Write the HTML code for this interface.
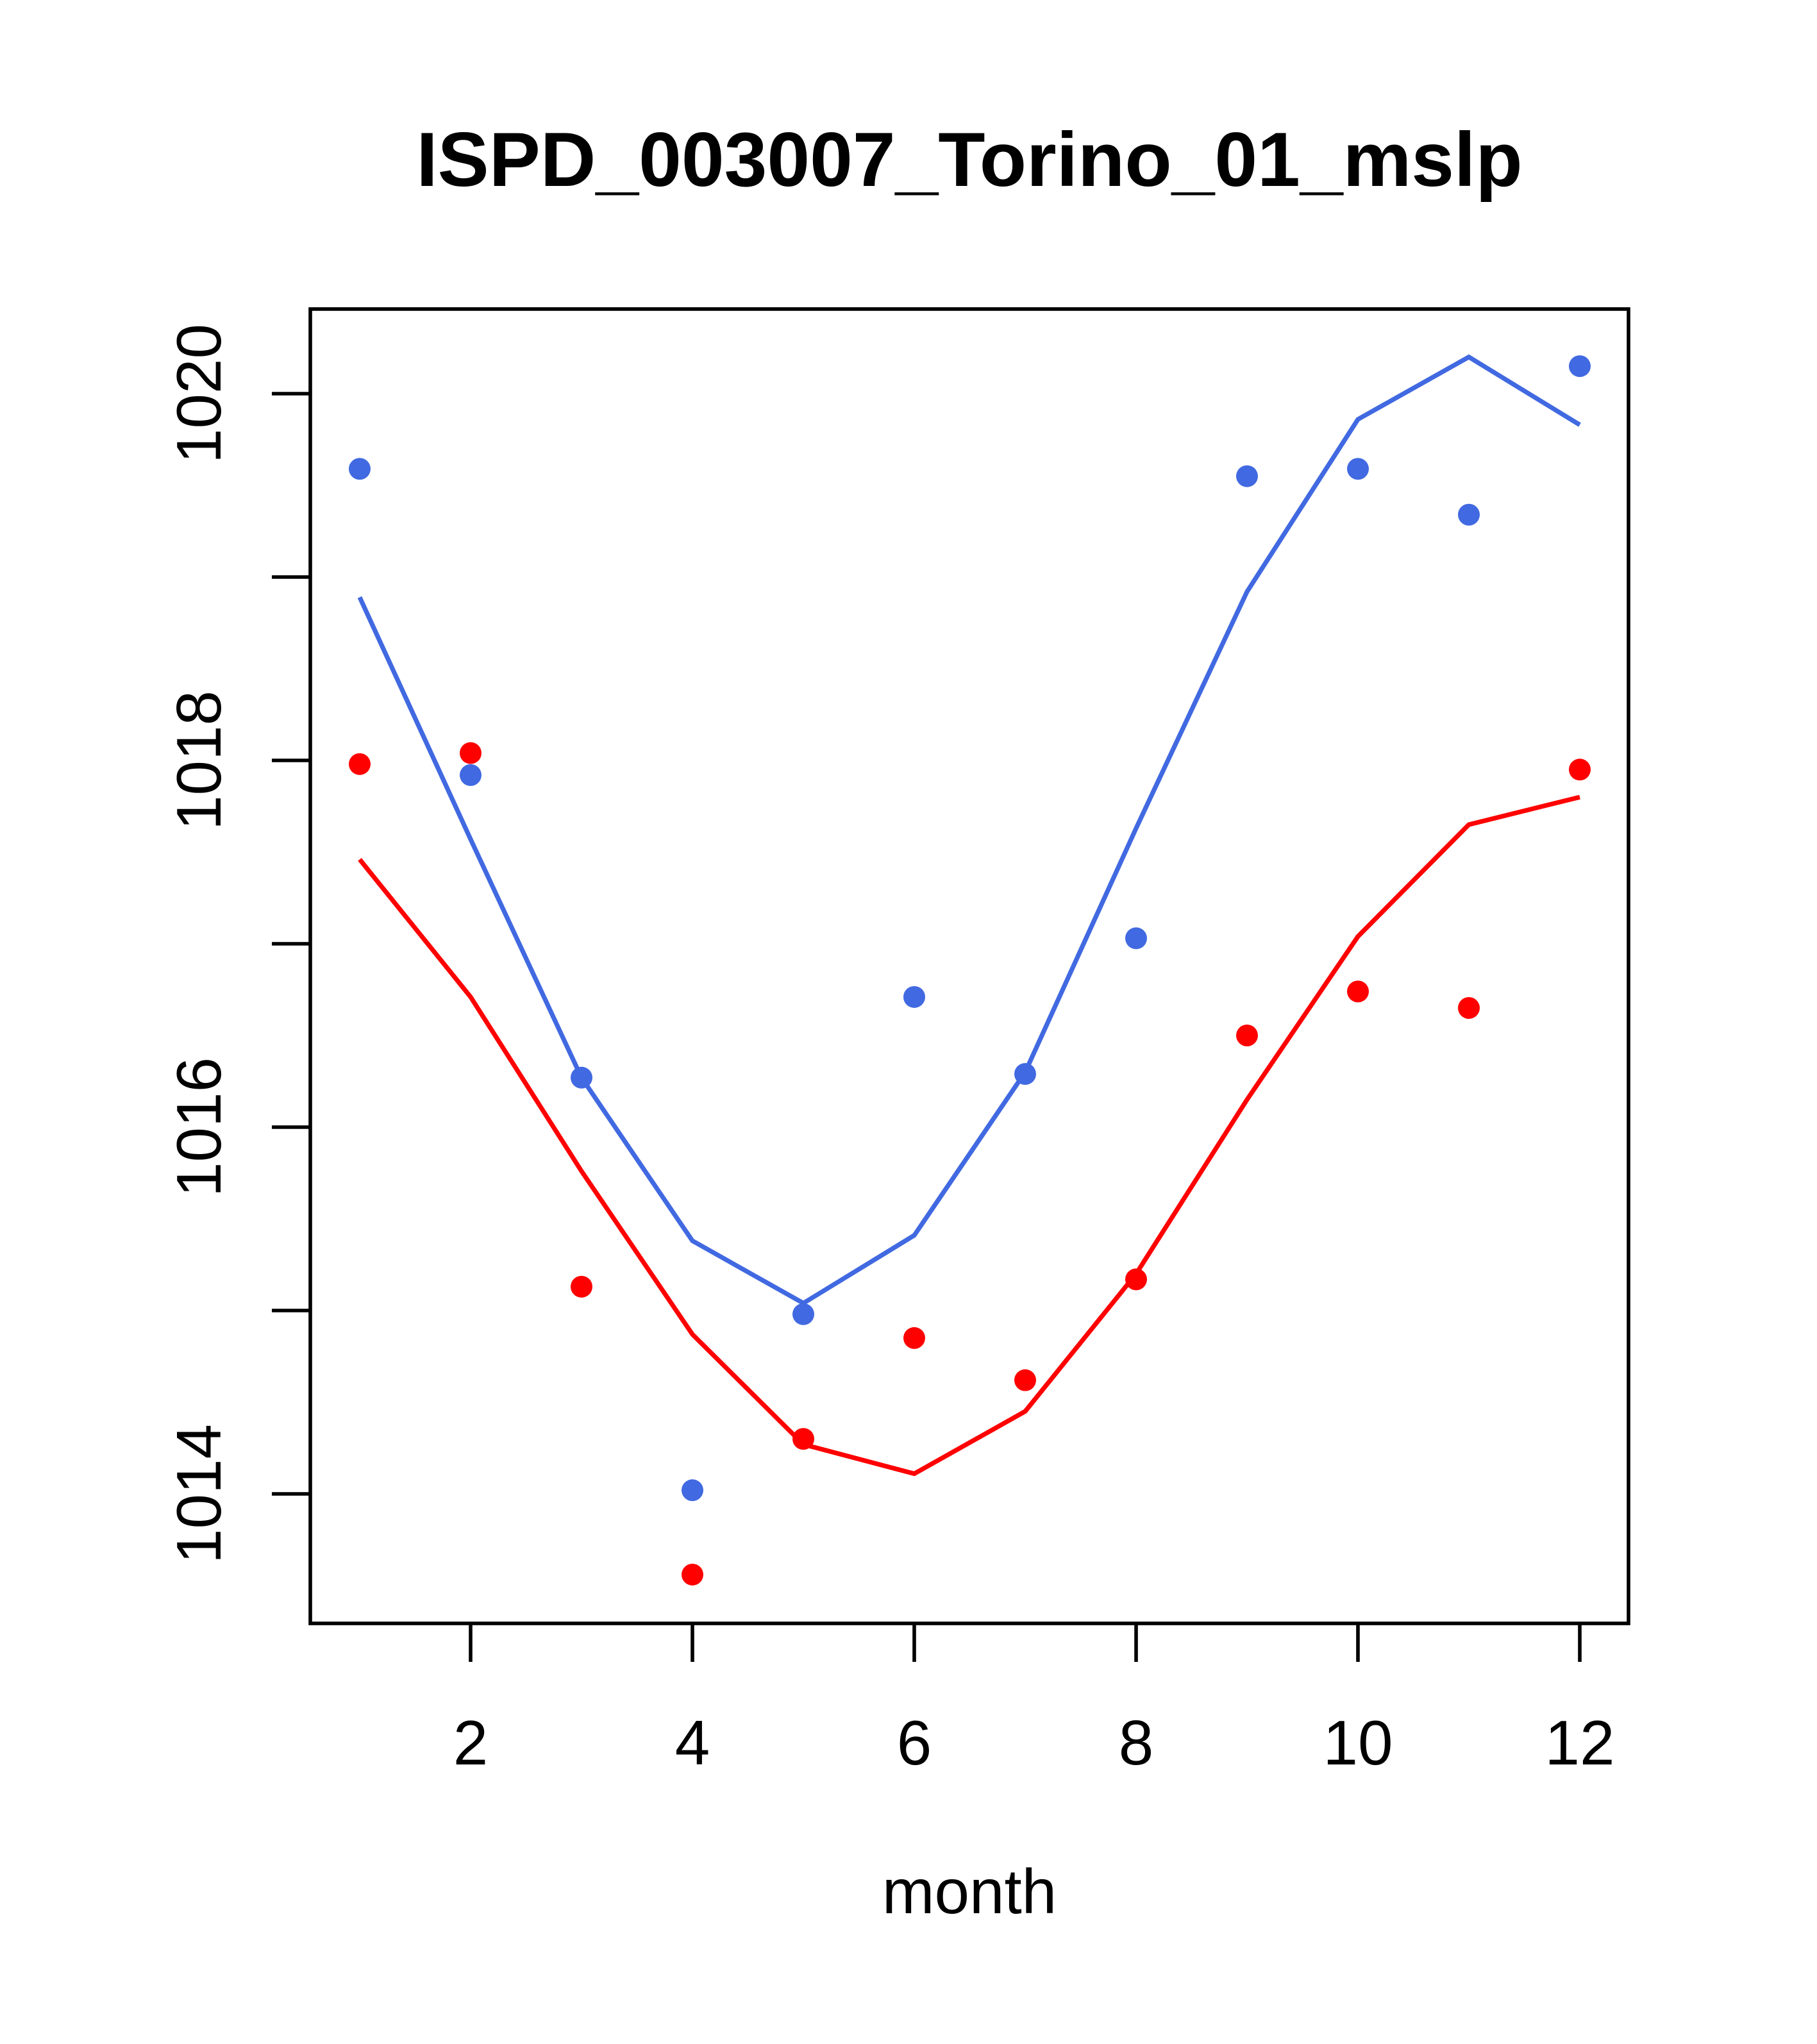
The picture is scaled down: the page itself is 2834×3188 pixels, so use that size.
<!DOCTYPE html>
<html><head><meta charset="utf-8"><style>
html,body{margin:0;padding:0;background:#fff;}
svg{display:block;font-family:"Liberation Sans",sans-serif;}
</style></head><body>
<svg id="chart" width="2834" height="3188" viewBox="0 0 1417 1594" xmlns="http://www.w3.org/2000/svg">
<rect width="1417" height="1594" fill="#fff"/>
<text x="756" y="145" text-anchor="middle" font-size="60" font-weight="bold">ISPD_003007_Torino_01_mslp</text>
<rect x="242" y="241" width="1028" height="1025" fill="none" stroke="#000" stroke-width="2.8"/>
<text x="756" y="1492" text-anchor="middle" font-size="49">month</text>
<g id="axes"></g>
<g id="marks"></g>
</svg>
<script>
const months=[1,2,3,4,5,6,7,8,9,10,11,12];
const blueLine=[1018.89,1017.57,1016.27,1015.38,1015.04,1015.41,1016.30,1017.63,1018.92,1019.86,1020.20,1019.83];
const bluePoints=[1019.59,1017.92,1016.27,1014.02,1014.98,1016.71,1016.29,1017.03,1019.55,1019.59,1019.34,1020.15];
const redLine=[1017.46,1016.71,1015.76,1014.87,1014.27,1014.11,1014.45,1015.20,1016.15,1017.04,1017.65,1017.80];
const redPoints=[1017.98,1018.04,1015.13,1013.56,1014.30,1014.85,1014.62,1015.17,1016.50,1016.74,1016.65,1017.95];
const xTicks=[2,4,6,8,10,12];
const yTicks=[1014,1015,1016,1017,1018,1019,1020];
const yLabels=[1014,1016,1018,1020];

const NS="http://www.w3.org/2000/svg";
function sx(m){return 280.5+(m-1)*86.5;}
function sy(v){return 307+(1020-v)*143;}
const axes=document.getElementById('axes');
const marks=document.getElementById('marks');
function mk(tag,attrs,parent){const e=document.createElementNS(NS,tag);for(const k in attrs)e.setAttribute(k,attrs[k]);parent.appendChild(e);return e;}

xTicks.forEach(t=>{
  const l=mk('line',{x1:sx(t),x2:sx(t),y1:1266,y2:1296,stroke:'#000','stroke-width':2.8},axes);
  
  
  const tx=mk('text',{x:sx(t),y:1376,'text-anchor':'middle','font-size':49},axes);
  tx.textContent=t;
  
  
});
yTicks.forEach(t=>{
  const l=mk('line',{x1:212,x2:242,y1:sy(t),y2:sy(t),stroke:'#000','stroke-width':2.8},axes);
  
  
});
yLabels.forEach(t=>{
  const tx=mk('text',{x:0,y:0,'text-anchor':'middle','font-size':49,transform:`translate(172,${sy(t)}) rotate(-90)`},axes);
  tx.textContent=t;
  
  
});
function line(vals,color,name){
  const p=mk('polyline',{points:vals.map((v,i)=>sx(months[i])+','+sy(v)).join(' '),fill:'none',stroke:color,'stroke-width':3.6},marks);
  
  
}
function pts(vals,color,name){
  vals.forEach((v,i)=>{
    const c=mk('circle',{cx:sx(months[i]),cy:sy(v),r:8.5,fill:color},marks);
    
    
  });
}
line(blueLine,'#4169E1','blue-line');
line(redLine,'#FF0000','red-line');
pts(bluePoints,'#4169E1','blue-point');
pts(redPoints,'#FF0000','red-point');
</script>
</body></html>
